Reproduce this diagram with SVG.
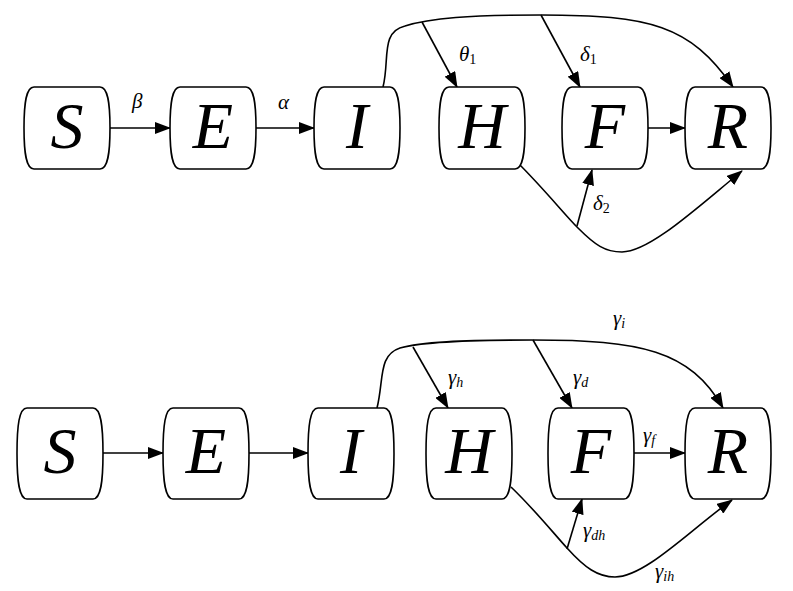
<svg xmlns="http://www.w3.org/2000/svg" width="793" height="591" viewBox="0 0 793 591">
<defs>
<marker id="arr" markerUnits="userSpaceOnUse" markerWidth="16" markerHeight="12" refX="15" refY="6" orient="auto"><path d="M0,0 L16,6 L0,12 Z" fill="#000"/></marker>
<path id="boxA" d="M10,0 H76 C84,0 86,16 86,41 C86,66 84,82 76,82 H10 C2,82 0,66 0,41 C0,16 2,0 10,0 Z" fill="#fff" stroke="#000" stroke-width="1.6"/>
<path id="boxB" d="M10,0 H76 C84,0 86,18 86,45.5 C86,73 84,91 76,91 H10 C2,91 0,73 0,45.5 C0,18 2,0 10,0 Z" fill="#fff" stroke="#000" stroke-width="1.6"/>
</defs>

<g id="connectors-top" fill="none" stroke="#000" stroke-width="1.6" marker-end="url(#arr)">
<path d="M110,128 H170"/>
<path d="M256,128 H314"/>
<path d="M648,128 H685"/>
<path d="M383,87 C390,60 380,32 405,26 C430,18 470,15 541,15 C650,15 690,25 733,87"/>
<path d="M422,22 L457,87"/>
<path d="M541,15 L580,87"/>
<path d="M518,163 C545,190 565,215 578,228 C595,245 605,252 622,252 C650,252 700,205 742,171"/>
<path d="M577,226 L592,170"/>
</g>
<g id="labels-top" style="font-family:'Liberation Serif',serif !important;font-style:italic;font-size:21px">
<text style="font-family:'Liberation Serif',serif !important" x="132" y="108">β</text>
<text style="font-family:'Liberation Serif',serif !important" x="278" y="109">α</text>
<text style="font-family:'Liberation Serif',serif !important" x="459" y="61">θ<tspan font-style="normal" font-size="14" dy="3">1</tspan></text>
<text style="font-family:'Liberation Serif',serif !important" x="580" y="61">δ<tspan font-style="normal" font-size="14" dy="3">1</tspan></text>
<text style="font-family:'Liberation Serif',serif !important" x="593" y="210">δ<tspan font-style="normal" font-size="14" dy="3">2</tspan></text>
</g>
<g id="S1"><use href="#boxA" x="24" y="87"/><text style="font-family:'Liberation Serif',serif !important;font-style:italic;font-size:66px" text-anchor="middle" x="67" y="148">S</text></g>
<g id="E1"><use href="#boxA" x="170" y="87"/><text style="font-family:'Liberation Serif',serif !important;font-style:italic;font-size:66px" text-anchor="middle" x="213" y="148">E</text></g>
<g id="I1"><use href="#boxA" x="314" y="87"/><text style="font-family:'Liberation Serif',serif !important;font-style:italic;font-size:66px" text-anchor="middle" x="357" y="148">I</text></g>
<g id="H1"><use href="#boxA" x="439" y="87"/><text style="font-family:'Liberation Serif',serif !important;font-style:italic;font-size:66px" text-anchor="middle" x="482" y="148">H</text></g>
<g id="F1"><use href="#boxA" x="562" y="87"/><text style="font-family:'Liberation Serif',serif !important;font-style:italic;font-size:66px" text-anchor="middle" x="605" y="148">F</text></g>
<g id="R1"><use href="#boxA" x="685" y="87"/><text style="font-family:'Liberation Serif',serif !important;font-style:italic;font-size:66px" text-anchor="middle" x="728" y="148">R</text></g>

<g id="connectors-bottom" fill="none" stroke="#000" stroke-width="1.6" marker-end="url(#arr)">
<path d="M103,453 H163"/>
<path d="M249,453 H308"/>
<path d="M634,453 H685"/>
<path d="M377,408 C384,380 378,355 400,348 C420,342 460,340 533,340 C640,340 690,350 723,408"/>
<path d="M413,347 L448,408"/>
<path d="M533,340 L572,408"/>
<path d="M511,487 C535,510 555,535 567,548 C585,568 598,577 615,577 C645,577 690,530 732,500"/>
<path d="M567,549 L582,499"/>
</g>
<g id="labels-bottom" style="font-family:'Liberation Serif',serif !important;font-style:italic;font-size:21px">
<text style="font-family:'Liberation Serif',serif !important" x="613" y="325">γ<tspan font-size="14" dy="3">i</tspan></text>
<text style="font-family:'Liberation Serif',serif !important" x="448" y="384">γ<tspan font-size="14" dy="3">h</tspan></text>
<text style="font-family:'Liberation Serif',serif !important" x="573" y="384">γ<tspan font-size="14" dy="3">d</tspan></text>
<text style="font-family:'Liberation Serif',serif !important" x="643" y="442">γ<tspan font-size="14" dy="3">f</tspan></text>
<text style="font-family:'Liberation Serif',serif !important" x="583" y="537">γ<tspan font-size="14" dy="3">dh</tspan></text>
<text style="font-family:'Liberation Serif',serif !important" x="655" y="578">γ<tspan font-size="14" dy="3">ih</tspan></text>
</g>
<g id="S2"><use href="#boxB" x="17" y="408"/><text style="font-family:'Liberation Serif',serif !important;font-style:italic;font-size:66px" text-anchor="middle" x="60" y="473">S</text></g>
<g id="E2"><use href="#boxB" x="163" y="408"/><text style="font-family:'Liberation Serif',serif !important;font-style:italic;font-size:66px" text-anchor="middle" x="206" y="473">E</text></g>
<g id="I2"><use href="#boxB" x="308" y="408"/><text style="font-family:'Liberation Serif',serif !important;font-style:italic;font-size:66px" text-anchor="middle" x="351" y="473">I</text></g>
<g id="H2"><use href="#boxB" x="426" y="408"/><text style="font-family:'Liberation Serif',serif !important;font-style:italic;font-size:66px" text-anchor="middle" x="469" y="473">H</text></g>
<g id="F2"><use href="#boxB" x="548" y="408"/><text style="font-family:'Liberation Serif',serif !important;font-style:italic;font-size:66px" text-anchor="middle" x="591" y="473">F</text></g>
<g id="R2"><use href="#boxB" x="685" y="408"/><text style="font-family:'Liberation Serif',serif !important;font-style:italic;font-size:66px" text-anchor="middle" x="728" y="473">R</text></g>
</svg>
